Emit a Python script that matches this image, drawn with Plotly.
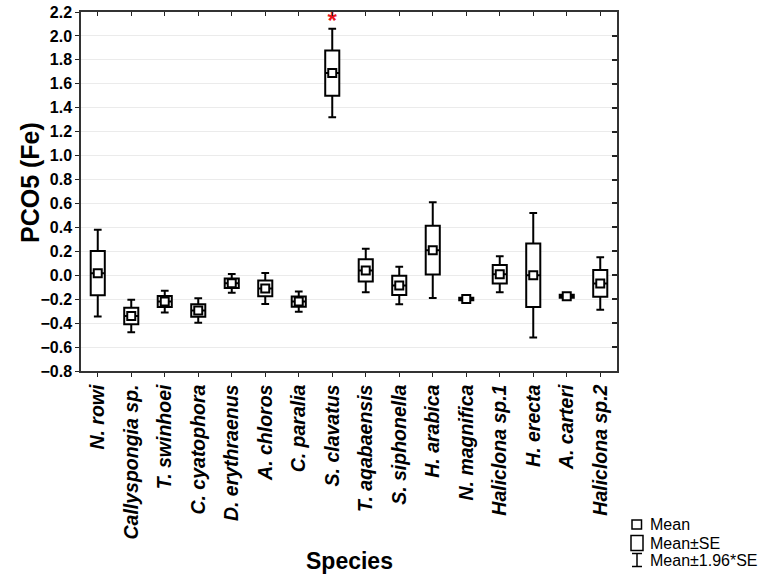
import plotly.graph_objects as go

species = ["N. rowi", "Callyspongia sp.", "T. swinhoei", "C. cyatophora", "D. erythraenus",
           "A. chloros", "C. paralia", "S. clavatus", "T. aqabaensis", "S. siphonella",
           "H. arabica", "N. magnifica", "Haliclona sp.1", "H. erecta", "A. carteri", "Haliclona sp.2"]
means = [0.017, -0.34, -0.22, -0.295, -0.067, -0.11, -0.22, 1.69, 0.04, -0.085,
         0.21, -0.198, 0.008, 0.0, -0.175, -0.068]
se = [0.185, 0.069, 0.046, 0.052, 0.040, 0.066, 0.043, 0.189, 0.093, 0.080,
      0.204, 0.010, 0.077, 0.265, 0.012, 0.112]
significant = ["S. clavatus"]
star_y = [2.11]

yticks = [round(-0.8 + 0.2 * i, 1) for i in range(16)]

W, H = 764, 579
L, R, T, B = 81, 617, 12, 371

q1 = [m - s for m, s in zip(means, se)]
q3 = [m + s for m, s in zip(means, se)]
lo = [m - 1.96 * s for m, s in zip(means, se)]
hi = [m + 1.96 * s for m, s in zip(means, se)]

fig = go.Figure()
fig.add_trace(go.Box(
    x=species, q1=q1, median=means, q3=q3, lowerfence=lo, upperfence=hi,
    fillcolor="white", line=dict(color="black", width=2),
    width=0.42, whiskerwidth=0.55, boxpoints=False, showlegend=False,
    hoverinfo="skip"))
fig.add_trace(go.Scatter(
    x=species, y=means, mode="markers", showlegend=False,
    marker=dict(symbol="square", size=8, color="white", line=dict(color="black", width=2))))
fig.add_trace(go.Scatter(
    x=significant, y=star_y, mode="text", text=["*"], showlegend=False,
    textfont=dict(color="#e8141c", size=24, family="Liberation Sans", weight="bold")))

fig.update_layout(
    width=W, height=H, paper_bgcolor="white", plot_bgcolor="white",
    margin=dict(l=L, r=W - R, t=T, b=H - B, autoexpand=False),
    font=dict(family="Liberation Sans, Arial", color="black"),
    xaxis=dict(type="category", categoryorder="array", categoryarray=species,
               range=[-0.5, len(species) - 0.5], tickangle=-90, automargin=False,
               tickfont=dict(size=19.5, weight="bold", style="italic", color="black"),
               ticks="outside", ticklen=4, tickwidth=1.2, tickcolor="#222",
               showline=True, linecolor="#333", linewidth=1.5, showgrid=False),
    yaxis=dict(range=[-0.8, 2.2], tickvals=yticks, tickformat=".1f", automargin=False,
               ticklabeloverflow="allow",
               tickfont=dict(size=16, weight="bold", color="black"),
               ticks="outside", ticklen=4, tickwidth=1.2, tickcolor="#222",
               showline=True, linecolor="#333", linewidth=1.5,
               showgrid=True, gridcolor="#ebebeb", gridwidth=1, zeroline=False),
    xaxis2=dict(overlaying="x", side="top", anchor="y", range=[-0.5, len(species) - 0.5],
                tickvals=list(range(len(species))), showticklabels=False, automargin=False,
                ticks="inside", ticklen=4, tickwidth=1.2, tickcolor="#222",
                showline=True, linecolor="#333", linewidth=1.5, showgrid=False, zeroline=False),
    yaxis2=dict(overlaying="y", side="right", anchor="x", range=[-0.8, 2.2], tickvals=yticks,
                showticklabels=False, ticks="inside", ticklen=5, tickwidth=1.5, tickcolor="#222",
                automargin=False,
                showline=True, linecolor="#333", linewidth=1.5, showgrid=False, zeroline=False),
)
# invisible trace to anchor the mirrored axes
fig.add_trace(go.Scatter(x=[0], y=[0], xaxis="x2", yaxis="y2", mode="markers",
                         marker=dict(opacity=0), showlegend=False, hoverinfo="skip"))

# helpers: figure pixel -> paper fraction
def px(x):
    return (x - L) / (R - L)

def py(y):
    return (B - y) / (B - T)

ann = []
ann.append(dict(text="<b>Species</b>", x=0.5, y=py(561), xref="paper", yref="paper",
                showarrow=False, xanchor="center", yanchor="middle", font=dict(size=23)))
ann.append(dict(text="<b>PCO5 (Fe)</b>", x=px(30), y=py(183), xref="paper", yref="paper",
                showarrow=False, textangle=-90, xanchor="center", yanchor="middle",
                font=dict(size=25)))
legend_items = [("Mean", 524), ("Mean±SE", 543), ("Mean±1.96*SE", 560)]
for label, yc in legend_items:
    ann.append(dict(text=label, x=px(648), y=py(yc), xref="paper", yref="paper",
                    showarrow=False, xanchor="left", yanchor="middle", font=dict(size=16)))
fig.update_layout(annotations=ann)

shp = []
lw = dict(color="black", width=1.5)
shp.append(dict(type="rect", xref="paper", yref="paper", x0=px(632), x1=px(641.5),
                y0=py(520), y1=py(529), line=lw))
shp.append(dict(type="rect", xref="paper", yref="paper", x0=px(631), x1=px(643),
                y0=py(535.5), y1=py(550.5), line=lw))
shp.append(dict(type="line", xref="paper", yref="paper", x0=px(637), x1=px(637),
                y0=py(553.5), y1=py(566.5), line=lw))
shp.append(dict(type="line", xref="paper", yref="paper", x0=px(632), x1=px(642),
                y0=py(553.5), y1=py(553.5), line=lw))
shp.append(dict(type="line", xref="paper", yref="paper", x0=px(632), x1=px(642),
                y0=py(566.5), y1=py(566.5), line=lw))
fig.update_layout(shapes=shp)

# remove the default page margin so the figure sits at the window's top-left corner
fig.write_html("out.html", config={"displayModeBar": False},
               post_script="document.body.style.margin='0px';document.body.style.overflow='hidden';")
